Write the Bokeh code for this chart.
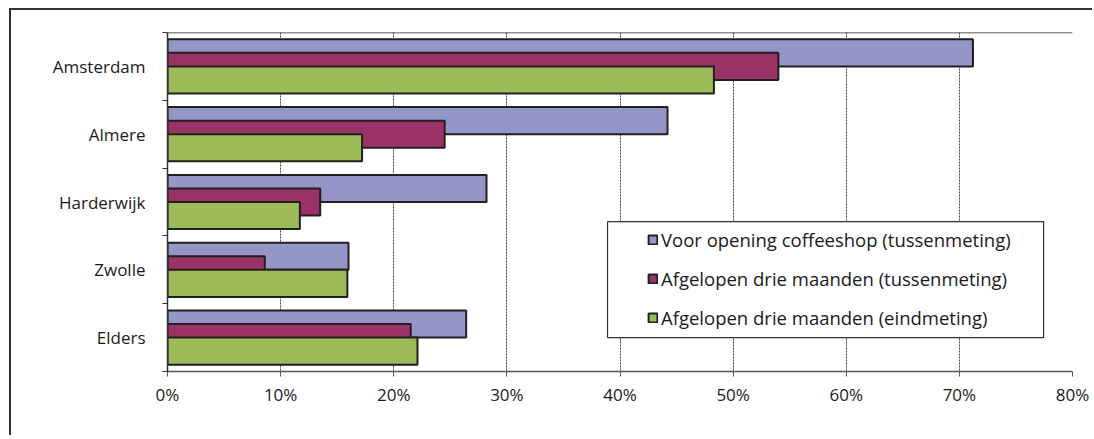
from bokeh.plotting import figure
from bokeh.models import Range1d, FixedTicker, NumeralTickFormatter, ColumnDataSource, Span, BoxAnnotation
from bokeh.transform import dodge
from bokeh.embed import file_html
from bokeh.resources import INLINE

categories = ["Amsterdam", "Almere", "Harderwijk", "Zwolle", "Elders"]
voor_opening = [0.712, 0.442, 0.282, 0.160, 0.264]
drie_maanden_tussen = [0.540, 0.245, 0.135, 0.086, 0.215]
drie_maanden_eind = [0.483, 0.172, 0.117, 0.159, 0.221]
series_names = ["Voor opening coffeeshop (tussenmeting)",
                "Afgelopen drie maanden (tussenmeting)",
                "Afgelopen drie maanden (eindmeting)"]
x_ticks = [0.0, 0.1, 0.2, 0.3, 0.4, 0.5, 0.6, 0.7, 0.8]

colors = ["#9595C8", "#993366", "#9BBB59"]
FONT = "Open Sans"
TXT = "#1a1a1a"

ypos = [i + 0.5 for i in range(len(categories))]
src = ColumnDataSource(dict(y=ypos, cat=categories, a=voor_opening,
                            b=drie_maanden_tussen, c=drie_maanden_eind))

p = figure(frame_width=905, frame_height=339,
           min_border_left=156, min_border_top=22, min_border_right=20, min_border_bottom=64,
           x_range=Range1d(0, 0.8), y_range=Range1d(len(categories), 0),
           output_backend="svg", toolbar_location=None)
p.styles = {"border-top": "2px solid #333333", "border-left": "2px solid #333333",
            "margin-left": "9px", "margin-top": "8px"}
p.outline_line_color = None
p.background_fill_color = "white"
p.border_fill_color = "white"

# grid
p.ygrid.visible = False
p.xgrid.ticker = FixedTicker(ticks=x_ticks)
p.xgrid.grid_line_color = "#444444"
p.xgrid.grid_line_dash = "2 1"
p.xgrid.grid_line_width = 1

p.add_layout(Span(location=0, dimension="width", line_color="#222222", line_width=1.5))

offsets = [-0.2, 0.0, 0.2]
fields = ["a", "b", "c"]
for f, off, col, name in zip(fields, offsets, colors, series_names):
    p.hbar(y=dodge("y", off, range=p.y_range), left=0, right=f, height=0.4, source=src,
           fill_color=col, line_color="#231F20", line_width=2, legend_label=name)

# x axis
xa = p.xaxis[0]
xa.ticker = FixedTicker(ticks=x_ticks, minor_ticks=[])
xa.formatter = NumeralTickFormatter(format="0%")
xa.major_tick_out = 5
xa.major_tick_in = 0
xa.axis_line_color = "#555555"
xa.axis_line_width = 1.5
xa.major_tick_line_color = "#555555"
xa.major_label_text_font = FONT
xa.major_label_text_font_size = "17px"
xa.major_label_text_color = TXT
xa.major_label_standoff = 6

# y axis: labels at centers, ticks at category boundaries
ya = p.yaxis[0]
ya.ticker = FixedTicker(ticks=ypos, minor_ticks=list(range(len(categories) + 1)))
ya.major_label_overrides = {y: c for y, c in zip(ypos, categories)}
ya.major_tick_out = 0
ya.major_tick_in = 0
ya.minor_tick_out = 5
ya.minor_tick_in = 0
ya.minor_tick_line_color = "#333333"
ya.axis_line_color = "#333333"
ya.axis_line_width = 1.5
ya.major_label_text_font = FONT
ya.major_label_text_font_size = "17px"
ya.major_label_text_color = TXT
ya.major_label_standoff = 17

# legend box
p.add_layout(BoxAnnotation(left=0.389, right=0.7745, top=2.79, bottom=4.50,
                           fill_color="white", fill_alpha=1.0,
                           line_color="#333333", line_alpha=1.0, line_width=1.2,
                           level="annotation"))

lg = p.legend[0]
lg.location = (470, 31)
lg.border_line_alpha = 0
lg.background_fill_alpha = 0
lg.padding = 10
lg.margin = 0
lg.spacing = 14
lg.label_height = 22
lg.glyph_width = 11
lg.glyph_height = 11
lg.label_standoff = 3
lg.label_text_font = FONT
lg.label_text_font_size = "18.5px"
lg.label_text_color = TXT

open("out.html", "w").write(file_html(p, INLINE))
